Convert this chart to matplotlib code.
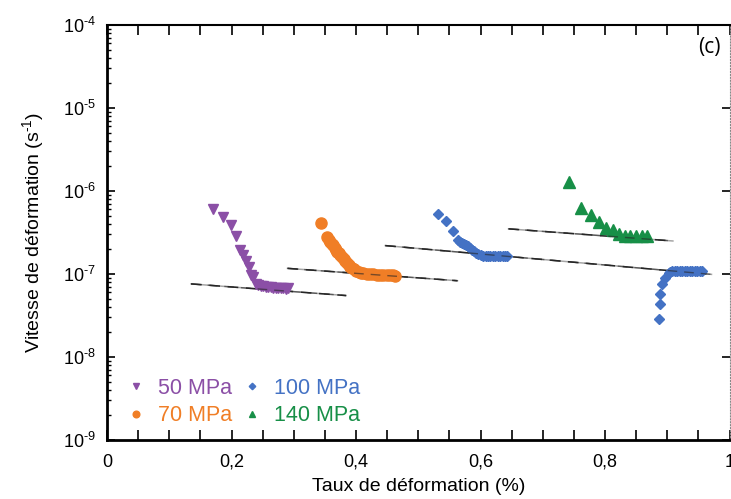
import numpy as np
import matplotlib
matplotlib.use('Agg')
import matplotlib.pyplot as plt
from matplotlib.ticker import MultipleLocator, FuncFormatter, LogLocator, NullFormatter

plt.rcParams['font.family'] = ['Liberation Sans', 'DejaVu Sans']
plt.rcParams['mathtext.default'] = 'regular'

# 50 MPa
x50 = [0.170, 0.186, 0.199, 0.207, 0.213, 0.218, 0.223, 0.228, 0.231, 0.235,
       0.239, 0.243, 0.247, 0.251, 0.255, 0.259, 0.263, 0.267, 0.271, 0.275,
       0.279, 0.283, 0.287, 0.291]
y50 = [6.0e-7, 4.9e-7, 3.9e-7, 2.9e-7, 1.95e-7, 1.7e-7, 1.45e-7, 1.2e-7, 9.8e-8, 9.1e-8,
       7.6e-8, 7.3e-8, 7.2e-8, 7.1e-8, 7.0e-8, 6.9e-8, 6.9e-8, 6.8e-8, 6.8e-8, 6.7e-8,
       6.7e-8, 6.7e-8, 6.6e-8, 6.7e-8]

# 70 MPa
x70 = [0.344, 0.353, 0.356, 0.358, 0.361, 0.363, 0.366, 0.368, 0.370, 0.372, 0.374,
       0.377, 0.380, 0.383, 0.385, 0.388, 0.390, 0.393, 0.396, 0.400, 0.404, 0.408,
       0.412, 0.417, 0.422, 0.427, 0.433, 0.438, 0.444, 0.450, 0.455, 0.460, 0.463]
y70 = [4.1e-7, 2.8e-7, 2.6e-7, 2.45e-7, 2.33e-7, 2.23e-7, 2.04e-7, 1.95e-7, 1.86e-7, 1.78e-7, 1.70e-7,
       1.6e-7, 1.50e-7, 1.42e-7, 1.35e-7, 1.29e-7, 1.23e-7, 1.18e-7, 1.14e-7, 1.10e-7, 1.07e-7, 1.04e-7,
       1.02e-7, 1.01e-7, 1.0e-7, 9.9e-8, 9.8e-8, 9.8e-8, 9.7e-8, 9.7e-8, 9.6e-8, 9.6e-8, 9.5e-8]

# 100 MPa
x100 = [0.531, 0.545, 0.555, 0.564, 0.567, 0.570, 0.574, 0.577, 0.580, 0.583, 0.587, 0.590,
        0.593, 0.596, 0.600, 0.604, 0.608, 0.612, 0.616, 0.620, 0.624, 0.628, 0.632, 0.636,
        0.640, 0.643,
        0.887, 0.888, 0.889, 0.892, 0.896, 0.902, 0.904, 0.908, 0.912, 0.916, 0.920, 0.924,
        0.928, 0.932, 0.936, 0.940, 0.944, 0.948, 0.952, 0.955]
y100 = [5.3e-7, 4.35e-7, 3.3e-7, 2.57e-7, 2.45e-7, 2.36e-7, 2.3e-7, 2.23e-7, 2.15e-7, 2.06e-7, 1.97e-7, 1.89e-7,
        1.8e-7, 1.74e-7, 1.7e-7, 1.67e-7, 1.66e-7, 1.65e-7, 1.65e-7, 1.65e-7, 1.65e-7, 1.65e-7, 1.65e-7, 1.65e-7,
        1.65e-7, 1.65e-7,
        2.9e-8, 4.4e-8, 5.8e-8, 7.5e-8, 8.9e-8, 1.02e-7, 1.07e-7, 1.09e-7, 1.1e-7, 1.1e-7, 1.1e-7, 1.1e-7,
        1.1e-7, 1.1e-7, 1.1e-7, 1.1e-7, 1.1e-7, 1.1e-7, 1.09e-7, 1.08e-7]

# 140 MPa
x140 = [0.742, 0.761, 0.778, 0.790, 0.802, 0.813, 0.822, 0.832, 0.840, 0.850, 0.859, 0.868]
y140 = [1.27e-6, 6.3e-7, 5.1e-7, 4.2e-7, 3.56e-7, 3.39e-7, 3.03e-7, 2.89e-7, 2.89e-7, 2.89e-7, 2.89e-7, 2.85e-7]

# trend lines (start / end)
trend_x = [[0.135, 0.384], [0.290, 0.563], [0.447, 0.971], [0.645, 0.909]]
trend_y = [[7.6e-8, 5.5e-8], [1.17e-7, 8.3e-8], [2.2e-7, 9.9e-8], [3.5e-7, 2.5e-7]]

fig = plt.figure(figsize=(7.31, 4.99), dpi=100)
ax = fig.add_axes([0.1464, 0.1182, 0.8516, 0.8317])

for tx, ty in zip(trend_x, trend_y):
    ax.plot(tx, ty, color='#a6a6a6', lw=1.1, zorder=1)
    ax.plot(tx, ty, color='#262626', lw=1.1, dashes=(7, 5), zorder=1)

ax.plot(x50, y50, 'v', color='#8b4fa6', ms=7.5, ls='none', label='50 MPa', zorder=2)
ax.plot(x70, y70, 'o', color='#f07e26', ms=8, ls='none', label='70 MPa', zorder=2)
ax.plot(x100, y100, 'D', color='#4472c4', ms=5.5, ls='none', label='100 MPa', zorder=2)
ax.plot(x140, y140, '^', color='#178f47', ms=8, ls='none', label='140 MPa', zorder=2)

for tx, ty in zip(trend_x, trend_y):
    ax.plot(tx, ty, color='#262626', lw=1.0, dashes=(7, 5), zorder=3, alpha=0.6)

ax.set_yscale('log')
ax.set_ylim(1e-9, 1e-4)
ax.set_xlim(0, 1)

ax.xaxis.set_major_locator(MultipleLocator(0.2))
ax.xaxis.set_minor_locator(MultipleLocator(0.05))
ax.xaxis.set_major_formatter(FuncFormatter(lambda v, p: ('%g' % round(v, 2)).replace('.', ',')))
ax.yaxis.set_major_locator(LogLocator(base=10))
ax.yaxis.set_minor_locator(LogLocator(base=10, subs=np.arange(2, 10)))
ax.yaxis.set_minor_formatter(NullFormatter())
ax.yaxis.set_major_formatter(FuncFormatter(lambda v, p: '10$^{\u2010%d}$' % abs(round(np.log10(v)))))

ax.tick_params(axis='x', which='both', direction='in', top=True, length=7, width=1.2, labelsize=13, pad=10)
ax.tick_params(axis='y', which='major', direction='in', length=6, width=1.2, labelsize=13, pad=8, right=True)
ax.tick_params(axis='y', which='minor', direction='in', length=3, width=1, right=False)

for s in ['left', 'bottom']:
    ax.spines[s].set_linewidth(2)
ax.spines['top'].set_linewidth(1.5)
ax.spines['right'].set_linestyle(':')
ax.spines['right'].set_color('#888888')

ax.set_xlabel('Taux de déformation (%)', fontsize=14, labelpad=5)
ax.set_ylabel('Vitesse de déformation (s$^{\u20101}$)', fontsize=14, labelpad=12)

ax.text(0.985, 0.945, '(c)', transform=ax.transAxes, fontsize=15, family=['Open Sans', 'DejaVu Sans'],
        ha='right', va='center')

leg = ax.legend(loc='lower left', bbox_to_anchor=(0.002, -0.014), ncol=2, frameon=False, fontsize=15.5,
                markerscale=0.6, handlelength=0.8, handletextpad=0.6, columnspacing=0.55, labelspacing=0.3,
                labelcolor='markerfacecolor')

fig.savefig('out.png', dpi=100)
